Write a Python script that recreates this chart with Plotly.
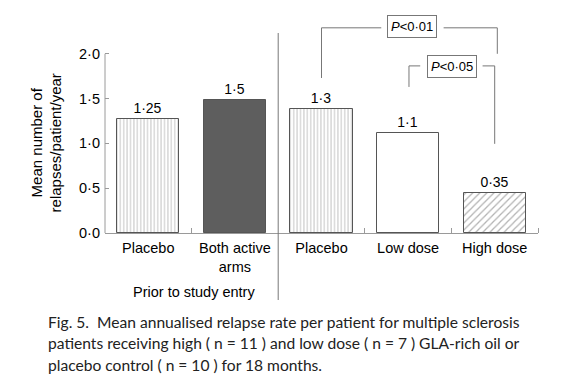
import plotly.graph_objects as go

# ---- data ----
categories = ["Placebo", "Both active<br>arms", "Placebo", "Low dose", "High dose"]
bar_heights = [1.27, 1.49, 1.385, 1.115, 0.45]
bar_labels = ["1·25", "1·5", "1·3", "1·1", "0·35"]
y_tick_vals = [0.0, 0.5, 1.0, 1.5, 2.0]
y_tick_text = ["0·0", "0·5", "1·0", "1·5", "2·0"]
caption_lines = [
    "Fig. 5.&nbsp;&nbsp;Mean annualised relapse rate per patient for multiple sclerosis",
    "patients receiving high ( n = 11 ) and low dose ( n = 7 ) GLA-rich oil or",
    "placebo control ( n = 10 ) for 18 months.",
]

FONT = "Liberation Sans, Arial, sans-serif"
AX = "#9a9a9a"
EDGE = "#555555"
TXT = "#000000"

xs = list(range(len(categories)))

patterns = [
    dict(shape="|", fgcolor="#8a8a8a", bgcolor="white", size=3.4, solidity=0.3),
    dict(shape=""),
    dict(shape="|", fgcolor="#8a8a8a", bgcolor="white", size=3.4, solidity=0.3),
    dict(shape=""),
    dict(shape="/", fgcolor="#666666", bgcolor="white", size=5, solidity=0.25),
]
fills = ["white", "#5e5e5e", "white", "white", "white"]

fig = go.Figure()
for i in xs:
    fig.add_trace(go.Bar(
        x=[xs[i]], y=[bar_heights[i]], width=0.72,
        marker=dict(color=fills[i], line=dict(color=EDGE, width=1), pattern=patterns[i]),
        text=[bar_labels[i]], textposition="outside", cliponaxis=False,
        textfont=dict(family=FONT, size=14, color=TXT),
        hoverinfo="skip", showlegend=False,
    ))

# significance brackets
def bracket(xpts, ypts):
    fig.add_trace(go.Scatter(x=xpts, y=ypts, mode="lines",
                             line=dict(color="#777777", width=1),
                             hoverinfo="skip", showlegend=False))

bracket([2.0, 2.0, 2.69], [1.73, 2.29, 2.29])
bracket([3.41, 4.03, 4.03], [2.29, 2.29, 2.0])
bracket([3.01, 3.01, 3.14], [1.63, 1.865, 1.865])
bracket([3.86, 4.0, 4.0], [1.865, 1.865, 0.995])

PLOT_L, PLOT_W = 105, 433
PLOT_B, PLOT_H = 233, 224

def px_x(p):
    return (p - PLOT_L) / PLOT_W

def px_y(p):
    return (PLOT_B - p) / PLOT_H

annotations = [
    dict(x=3.05, y=2.30, xref="x", yref="y", text="<i>P</i>&lt;0·01", showarrow=False,
         font=dict(family=FONT, size=13, color=TXT), bordercolor="#777", borderwidth=1,
         borderpad=3, bgcolor="white"),
    dict(x=3.51, y=1.86, xref="x", yref="y", text="<i>P</i>&lt;0·05", showarrow=False,
         font=dict(family=FONT, size=13, color=TXT), bordercolor="#777", borderwidth=1,
         borderpad=3, bgcolor="white"),
    dict(x=px_x(46), y=1.0, xref="paper", yref="y", xanchor="center", yanchor="middle",
         text="Mean number of<br>relapses/patient/year",
         textangle=-90, showarrow=False, font=dict(family=FONT, size=15, color=TXT)),
    dict(x=0.53, y=px_y(292), xref="x", yref="paper", xanchor="center", yanchor="middle",
         text="Prior to study entry", showarrow=False,
         font=dict(family=FONT, size=14.5, color=TXT)),
]
cap_y = [322, 343, 365]
for line, py in zip(caption_lines, cap_y):
    annotations.append(dict(x=px_x(46), y=px_y(py), xref="paper", yref="paper",
                            xanchor="left", yanchor="middle", text=line, showarrow=False,
                            font=dict(family="Lato, sans-serif", size=15.6, color="#222")))

shapes = [
    dict(type="line", xref="paper", yref="y", x0=0, x1=0, y0=0, y1=2.0,
         line=dict(color=AX, width=1)),
    dict(type="line", xref="paper", yref="paper", x0=0.4, x1=0.4, y0=px_y(300), y1=px_y(33),
         line=dict(color="#777", width=1)),
]

fig.update_layout(
    width=570, height=386,
    margin=dict(l=105, r=32, t=9, b=153, autoexpand=False),
    paper_bgcolor="white", plot_bgcolor="white",
    annotations=annotations, shapes=shapes,
    bargap=0,
    xaxis=dict(range=[-0.5, 4.5], tickvals=xs, ticktext=categories, ticks="",
               showline=True, linecolor=AX, linewidth=1, showgrid=False, zeroline=False,
               tickfont=dict(family=FONT, size=14.5, color=TXT), ticklabelstandoff=2,
               minor=dict(tickvals=[0.5, 2.5, 3.5, 4.5], ticks="inside", ticklen=5,
                          tickcolor=AX, showgrid=False)),
    yaxis=dict(range=[0, 2.5], tickvals=y_tick_vals, ticktext=y_tick_text, ticks="inside",
               ticklen=4, tickcolor=AX, showline=False, showgrid=False, zeroline=False,
               tickfont=dict(family=FONT, size=14.5, color=TXT), ticklabelstandoff=4),
)

fig.write_html("out.html", config={"displayModeBar": False},
               post_script="document.body.style.margin='0';")
